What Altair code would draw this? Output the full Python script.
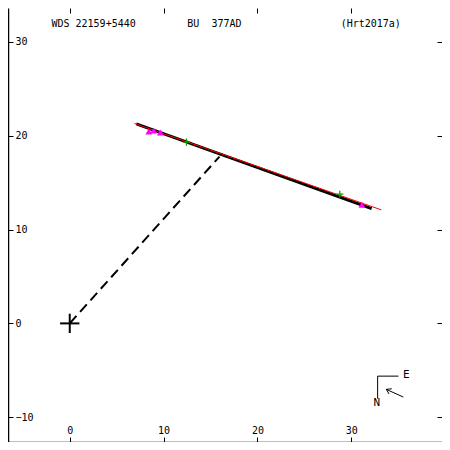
import altair as alt
import pandas as pd

W = H = 434
XDOM = [-6.58, 39.67]
YDOM = [-12.64, 33.61]
FONT = "DejaVu Sans Mono"

# orbit arc (black) and linear fit (red), in arcsec
orbit_x = [7.09, 32.17]
orbit_y = [21.27, 12.23]
fit_x = [6.90, 33.20]
fit_y = [21.30, 12.10]
# dashed line from primary to closest approach
node_x = [0.0, 15.96]
node_y = [0.0, 17.78]
# observations
mag_x = [8.43, 8.94, 9.66, 31.14]
mag_y = [20.45, 20.55, 20.35, 12.64]
grn_x = [12.44, 28.78]
grn_y = [19.32, 13.77]
# ticks
xticks = [0, 10, 20, 30]
yticks = [-10, 0, 10, 20, 30]
# header labels
hdr_text = ["WDS 22159+5440", "BU\u00a0\u00a0377AD", "(Hrt2017a)"]
hdr_x = [-1.95, 12.53, 28.87]
hdr_y = [31.9, 31.9, 31.9]

xs = alt.Scale(domain=XDOM, nice=False, zero=False)
ys = alt.Scale(domain=YDOM, nice=False, zero=False)

axcommon = dict(grid=False, title=None, tickColor="black", domainColor="black",
                labelColor="black", labelFont=FONT, labelFontSize=10, tickSize=5,
                labelFlush=False, labelOverlap=False)

def X(axis=None, field="x"):
    return alt.X(f"{field}:Q", scale=xs, axis=axis)

def Y(axis=None, field="y"):
    return alt.Y(f"{field}:Q", scale=ys, axis=axis)

orbit_df = pd.DataFrame({"x": orbit_x, "y": orbit_y})
fit_df = pd.DataFrame({"x": fit_x, "y": fit_y})
node_df = pd.DataFrame({"x": node_x, "y": node_y})
mag_df = pd.DataFrame({"x": mag_x, "y": mag_y})
grn_df = pd.DataFrame({"x": grn_x, "y": grn_y})
hdr_df = pd.DataFrame({"t": hdr_text, "x": hdr_x, "y": hdr_y})

# layer with labelled axes (bottom & left, drawn inside)
orbit = alt.Chart(orbit_df).mark_line(color="black", strokeWidth=3).encode(
    x=X(alt.Axis(orient="top", offset=-H, values=xticks, labelPadding=2,
                 domain=True, domainWidth=1.5, **axcommon)),
    y=Y(alt.Axis(orient="right", offset=-W, values=yticks, labelPadding=2,
                 domain=True, domainWidth=1.5, **axcommon)),
)
fit = alt.Chart(fit_df).mark_line(color="red", strokeWidth=1).encode(
    x=X(alt.Axis(orient="bottom", offset=-H, values=xticks, labels=False,
                 domain=False, **axcommon)),
    y=Y(alt.Axis(orient="left", offset=-W, values=yticks, labels=False,
                 domain=False, **axcommon)),
)
node = alt.Chart(node_df).mark_line(color="black", strokeWidth=2, strokeDash=[10, 5.5]).encode(
    x=X(), y=Y())
mag = alt.Chart(mag_df).mark_point(shape="triangle-up", filled=True, color="#ff00ff",
                                   size=48, opacity=1).encode(x=X(), y=Y())
grn = alt.Chart(grn_df).mark_point(shape="M-1,0L1,0M0,-1L0,1", filled=False,
                                   color="#00a000", size=50, strokeWidth=1.2,
                                   opacity=1).encode(x=X(), y=Y())

# primary star cross
cross_df = pd.DataFrame({"x": [-1.03, 0.0], "x2": [1.03, 0.0],
                         "y": [0.0, -1.03], "y2": [0.0, 1.03]})
cross = alt.Chart(cross_df).mark_rule(color="black", strokeWidth=2).encode(
    x=X(), x2="x2:Q", y=Y(), y2="y2:Q")

hdr = alt.Chart(hdr_df).mark_text(font=FONT, fontSize=10, align="left",
                                  baseline="middle", color="black").encode(
    x=X(), y=Y(), text="t:N")

# compass (N / E / motion arrow)
comp_df = pd.DataFrame({"x": [32.81, 32.81, 35.55, 33.73, 33.73],
                        "x2": [35.03, 32.81, 33.73, 34.03, 34.32],
                        "y": [-5.62, -5.62, -7.85, -7.03, -7.03],
                        "y2": [-5.62, -8.02, -7.03, -7.52, -6.97]})
comp = alt.Chart(comp_df).mark_rule(color="black", strokeWidth=1).encode(
    x=X(), x2="x2:Q", y=Y(), y2="y2:Q")
lab_df = pd.DataFrame({"t": ["E", "N"], "x": [35.86, 32.72], "y": [-5.55, -8.53]})
comp_lab = alt.Chart(lab_df).mark_text(font=FONT, fontSize=11, baseline="middle",
                                       align="center", color="black").encode(
    x=X(), y=Y(), text="t:N")

chart = alt.layer(orbit, fit, node, cross, mag, grn, hdr, comp, comp_lab).resolve_axis(
    x="independent", y="independent"
).properties(
    width=W, height=H, padding=0, autosize=alt.AutoSizeParams(type="none"),
    background="white"
).configure_view(stroke=None)

chart.save("out.html", embed_options={"renderer": "svg", "actions": False})
